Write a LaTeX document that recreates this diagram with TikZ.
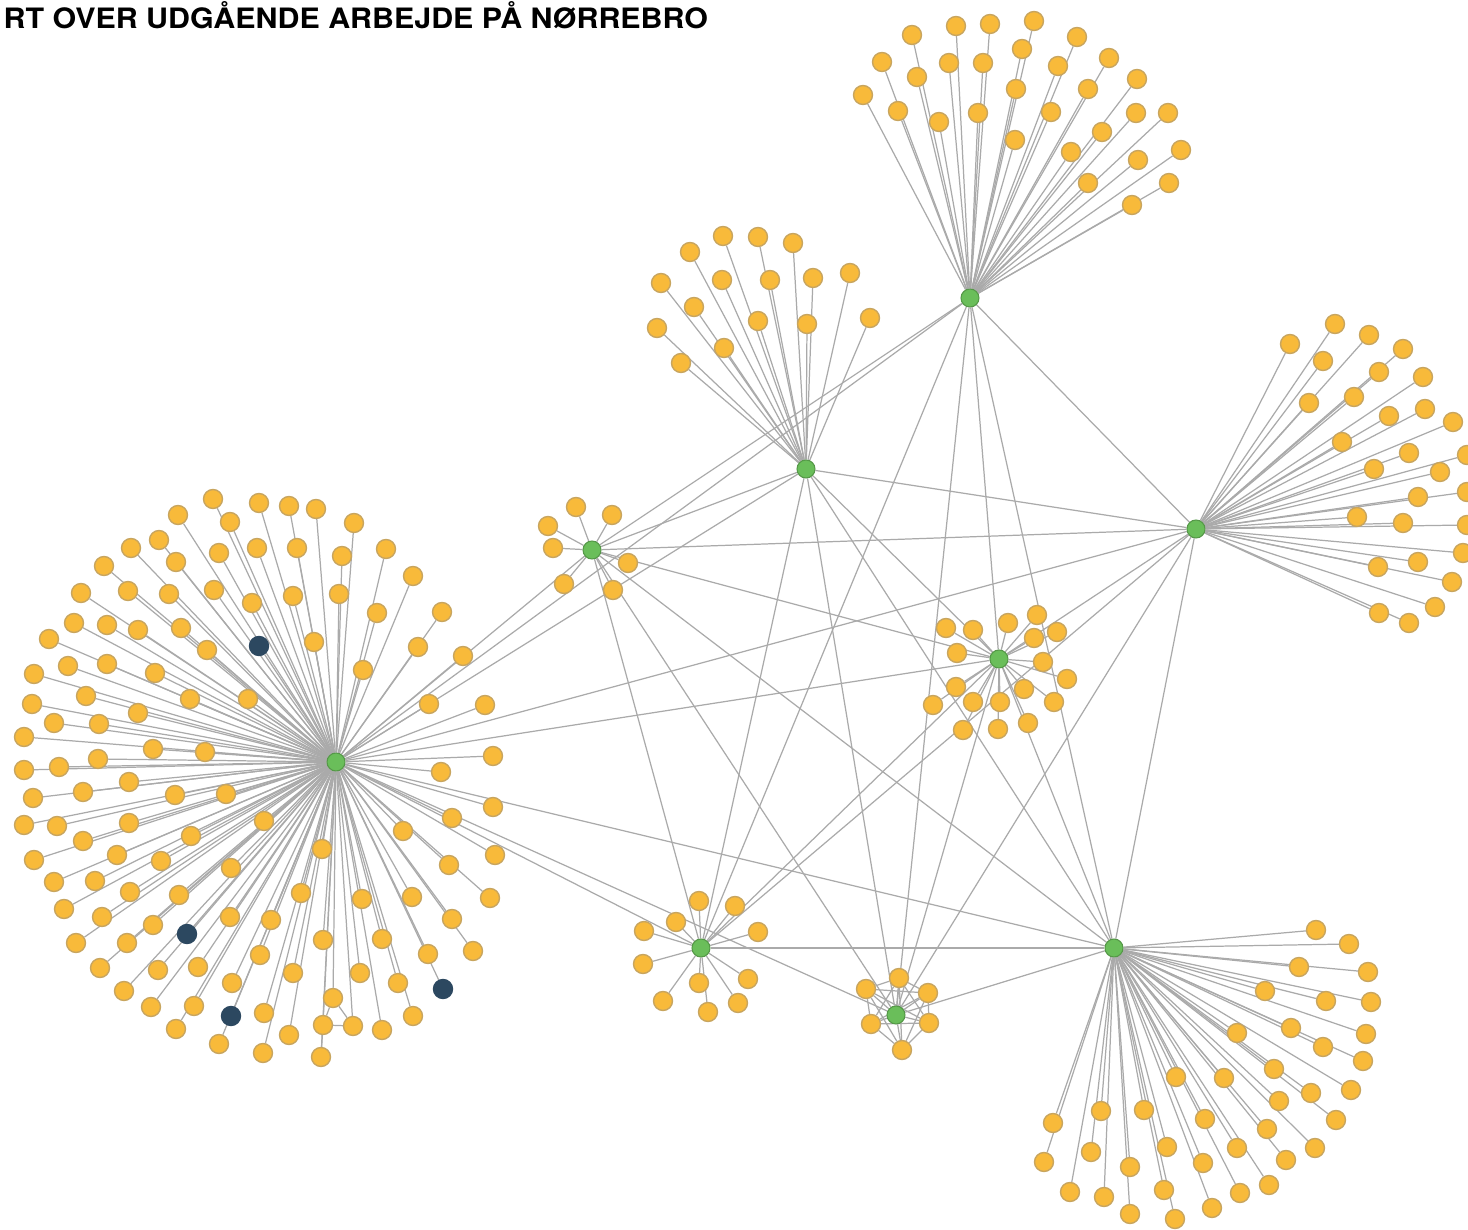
\documentclass[tikz,border=0pt]{standalone}
\usepackage{fontspec}
\newfontfamily\titlefont{TeX Gyre Heros}
\usepackage{graphicx}

\definecolor{leafyellow}{RGB}{248,186,58}
\definecolor{leafrim}{RGB}{200,165,95}
\definecolor{hubgreen}{RGB}{106,190,90}
\definecolor{navyblue}{RGB}{44,72,96}
\definecolor{linkgray}{RGB}{170,170,170}

\pgfdeclarelayer{bg}
\pgfsetlayers{bg,main}

\tikzset{
  leaf/.style={circle, fill=leafyellow, draw=leafrim, line width=0.4pt, minimum size=0.19cm, inner sep=0pt},
  navy/.style={leaf, fill=navyblue, draw=navyblue},
  hub/.style={circle, fill=hubgreen, draw=hubgreen!80!black, line width=0.3pt, minimum size=0.18cm, inner sep=0pt},
  link/.style={draw=linkgray, line width=0.35pt}
}

\begin{document}
\begin{tikzpicture}[x=0.01cm, y=-0.01cm]
  \useasboundingbox (0,0) rectangle (1468,1230);

  % Title
  \node[anchor=base west, inner sep=0pt] (title) at (3,29)
    {\resizebox{7.04cm}{0.27cm}{\titlefont\bfseries RT OVER UDGÅENDE ARBEJDE PÅ NØRREBRO}};

  % Hubs
  \node[hub] (h1) at (336,762) {};
  \node[hub] (h2) at (592,550) {};
  \node[hub] (h3) at (806,469) {};
  \node[hub] (h4) at (970,298) {};
  \node[hub] (h5) at (1196,529) {};
  \node[hub] (h6) at (999,659) {};
  \node[hub] (h7) at (701,948) {};
  \node[hub] (h8) at (896,1015) {};
  \node[hub] (h9) at (1114,948) {};

  % Leaves of the left hub
  \foreach \x/\y [count=\i] in {213/499, 259/503, 178/515, 230/522, 159/540, 131/548, 219/553, 257/548,
      176/562, 104/566, 81/593, 128/591, 169/594, 214/590, 252/603, 74/623, 107/625, 138/630, 181/628,
      207/650, 49/639, 68/666, 107/664, 155/673, 34/674, 248/699, 190/699, 86/696, 32/704, 138/713,
      54/723, 99/724, 24/737, 153/749, 205/752, 98/759, 59/767, 24/770, 129/782,
      289/506, 316/509, 354/523, 297/548, 342/556, 386/549, 413/576, 293/596, 339/594, 377/613,
      442/612, 314/642, 363/670, 418/647, 463/656, 429/704, 485/705, 493/756, 441/772,
      33/798, 83/792, 175/795, 226/794, 24/825, 57/826, 129/823, 191/836, 264/821, 83/841, 34/860,
      117/855, 161/861, 231/868, 54/882, 95/881, 130/892, 179/895, 64/909, 102/917, 153/925, 230/917,
      76/943, 127/943, 100/968, 158/970, 198/967, 260/955, 124/991, 232/983, 151/1007, 194/1006,
      176/1029, 219/1044, 263/1053, 264/1013, 271/920,
      493/807, 452/818, 403/831, 495/855, 322/849, 449/865, 490/898, 301/893, 362/899, 412/897,
      452/919, 473/951, 323/940, 382/939, 428/954, 293/973, 360/973, 398/983, 382/1030, 413/1016,
      289/1035} {
    \node[leaf] (a\i) at (\x,\y) {};
    \xdef\na{\i}
  }
  % dark ones
  \foreach \x/\y [count=\i] in {259/646, 187/934, 231/1016, 443/989}
    \node[navy] (n\i) at (\x,\y) {};
  % small triangle below the left hub
  \node[leaf] (t1) at (333,998) {};
  \node[leaf] (t2) at (323,1025) {};
  \node[leaf] (t3) at (353,1026) {};
  \node[leaf] (t4) at (321,1057) {};

  % Leaves of hub 2
  \foreach \x/\y [count=\i] in {576/507, 612/515, 548/526, 553/548, 628/563, 564/584, 613/590} {
    \node[leaf] (b\i) at (\x,\y) {};
    \xdef\nb{\i}
  }

  % Leaves of hub 3
  \foreach \x/\y [count=\i] in {723/236, 758/237, 690/252, 793/243, 661/283, 722/280, 770/280, 813/278,
      850/273, 694/307, 657/328, 758/321, 807/324, 870/318, 724/348, 681/363} {
    \node[leaf] (c\i) at (\x,\y) {};
    \xdef\nc{\i}
  }

  % Leaves of hub 4
  \foreach \x/\y [count=\i] in {912/35, 956/26, 990/24, 1034/21, 1077/37, 882/62, 917/77, 949/63,
      983/63, 1022/49, 1058/66, 1109/58, 863/95, 898/111, 939/122, 978/113, 1016/89, 1051/112,
      1088/89, 1137/79, 1015/140, 1071/152, 1102/132, 1136/113, 1168/113, 1088/183, 1138/160,
      1181/150, 1132/205, 1169/183} {
    \node[leaf] (d\i) at (\x,\y) {};
    \xdef\nd{\i}
  }

  % Leaves of hub 5
  \foreach \x/\y [count=\i] in {1335/324, 1290/344, 1369/335, 1323/361, 1403/349, 1379/372, 1423/377,
      1309/403, 1354/397, 1389/416, 1425/409, 1453/422, 1342/442, 1409/453, 1467/455, 1440/472,
      1374/469, 1418/497, 1467/492, 1357/517, 1403/523, 1467/525, 1463/553, 1418/562, 1378/567,
      1452/582, 1435/607, 1379/613, 1409/623} {
    \node[leaf] (e\i) at (\x,\y) {};
    \xdef\ne{\i}
  }

  % Leaves of hub 6
  \foreach \x/\y [count=\i] in {946/628, 973/630, 1008/623, 1037/615, 1057/632, 1034/638, 957/653,
      1043/662, 1067/679, 956/687, 1024/689, 933/705, 973/702, 1000/702, 1054/702, 963/730,
      998/729, 1028/723} {
    \node[leaf] (f\i) at (\x,\y) {};
    \xdef\nf{\i}
  }

  % Leaves of hub 7
  \foreach \x/\y [count=\i] in {699/901, 735/906, 676/922, 644/931, 758/932, 643/964, 748/979,
      699/983, 663/1001, 738/1003, 708/1012} {
    \node[leaf] (g\i) at (\x,\y) {};
    \xdef\ng{\i}
  }

  % Leaves of hub 8, all tied to each other
  \foreach \x/\y [count=\i] in {899/978, 928/993, 929/1023, 902/1050, 871/1024, 866/989}
    \node[leaf] (k\i) at (\x,\y) {};

  % Leaves of hub 9
  \foreach \x/\y [count=\i] in {1316/930, 1349/944, 1299/967, 1368/972, 1265/991, 1326/1001,
      1371/1002, 1291/1028, 1366/1034, 1237/1033, 1323/1047, 1363/1061, 1274/1069, 1176/1077,
      1224/1078, 1311/1093, 1351/1090, 1279/1101, 1336/1120, 1101/1111, 1144/1110, 1205/1119,
      1053/1123, 1267/1129, 1315/1148, 1167/1147, 1237/1148, 1091/1152, 1203/1163, 1044/1162,
      1130/1167, 1286/1160, 1269/1185, 1070/1192, 1164/1190, 1240/1193, 1104/1197, 1212/1208,
      1130/1214, 1175/1219} {
    \node[leaf] (m\i) at (\x,\y) {};
    \xdef\nm{\i}
  }

  % All links, behind the nodes
  \begin{pgfonlayer}{bg}
    % hub to hub
    \foreach \a/\b in {h1/h2, h1/h3, h1/h4, h1/h5, h1/h6, h1/h7, h1/h8, h1/h9,
                       h2/h3, h2/h4, h2/h5, h2/h6, h2/h7, h2/h8, h2/h9,
                       h3/h5, h3/h6, h3/h7, h3/h8, h3/h9,
                       h4/h5, h4/h6, h4/h7, h4/h8, h4/h9,
                       h5/h6, h5/h7, h5/h8, h5/h9,
                       h6/h7, h6/h8, h6/h9,
                       h7/h9, h8/h9}
      \draw[link] (\a) -- (\b);
    % hub to leaf
    \foreach \i in {1,...,\na} \draw[link] (h1) -- (a\i);
    \foreach \i in {1,...,4} \draw[link] (h1) -- (n\i);
    \foreach \t in {t1,t2,t3,t4} \draw[link] (h1) -- (\t);
    \draw[link] (t1) -- (t2) -- (t3) -- (t1);
    \draw[link] (t2) -- (t4);
    \foreach \i in {1,...,\nb} \draw[link] (h2) -- (b\i);
    \foreach \i in {1,...,\nc} \draw[link] (h3) -- (c\i);
    \foreach \i in {1,...,\nd} \draw[link] (h4) -- (d\i);
    \foreach \i in {1,...,\ne} \draw[link] (h5) -- (e\i);
    \foreach \i in {1,...,\nf} \draw[link] (h6) -- (f\i);
    \foreach \i in {1,...,\ng} \draw[link] (h7) -- (g\i);
    \foreach \i in {1,...,6} \draw[link] (h8) -- (k\i);
    \foreach \i in {1,...,6} \foreach \j in {1,...,6} {
      \ifnum\i<\j \draw[link] (k\i) -- (k\j);\fi
    }
    \foreach \i in {1,...,\nm} \draw[link] (h9) -- (m\i);
  \end{pgfonlayer}
\end{tikzpicture}
\end{document}
